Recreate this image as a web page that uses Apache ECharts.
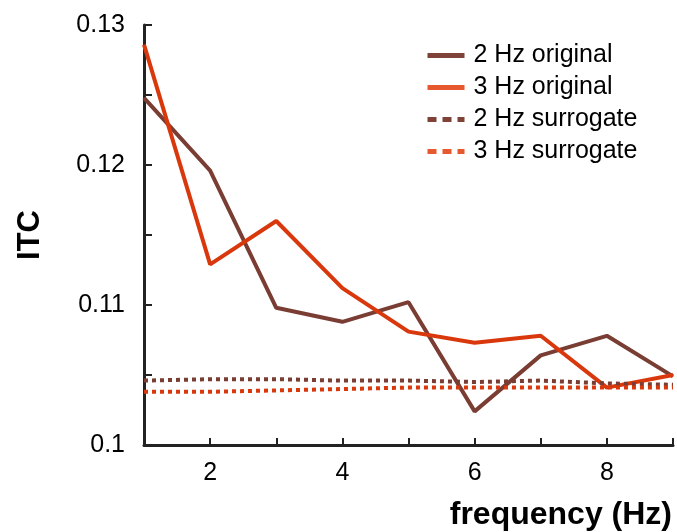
<!DOCTYPE html>
<html>
<head>
<meta charset="utf-8">
<script src="https://cdn.jsdelivr.net/npm/echarts@6/dist/echarts.min.js"></script>
<style>
html,body{margin:0;padding:0;background:#fff;}
#grafico{width:677px;height:532px;}
</style>
</head>
<body>
<div id="grafico"></div>
<script>
var frecuencias = [1, 2, 3, 4, 5, 6, 7, 8, 9];
var original2Hz = [0.1248, 0.1196, 0.1098, 0.1088, 0.1102, 0.1024, 0.1064, 0.1078, 0.1049];
var original3Hz = [0.1286, 0.1129, 0.1160, 0.1112, 0.1081, 0.1073, 0.1078, 0.1041, 0.1050];
var surrogate2Hz = [0.1046, 0.1047, 0.1047, 0.1046, 0.1046, 0.1045, 0.1046, 0.1044, 0.1043];
var surrogate3Hz = [0.1038, 0.1038, 0.1039, 0.1040, 0.1041, 0.1041, 0.1041, 0.1041, 0.1041];
var nombres = ['2 Hz original', '3 Hz original', '2 Hz surrogate', '3 Hz surrogate'];

var colorMarron = '#7a3d33';
var colorRojo = '#d9380d';
var colorMarronLeyenda = '#7f4238';
var colorRojoLeyenda = '#e8582e';

function pares(valores) {
	var arr = [];
	for (var i = 0; i < frecuencias.length; i++) {
		arr.push([frecuencias[i], valores[i]]);
	}
	return arr;
}

var dom = document.getElementById("grafico");
var myChart = echarts.init(dom);
var option = {
	animation: false,
	title: {
		text: 'frequency (Hz)',
		right: 0,
		bottom: -4,
		textStyle: { fontFamily: 'Liberation Sans', fontSize: 32, fontWeight: 'bold', color: '#000' }
	},
	legend: {
		left: 420,
		top: 38,
		orient: 'vertical',
		itemWidth: 37,
		itemHeight: 5,
		itemGap: 7,
		itemStyle: { opacity: 0 },
		data: [
			{ name: nombres[0], lineStyle: { color: colorMarronLeyenda, width: 5, type: 'solid' } },
			{ name: nombres[1], lineStyle: { color: colorRojoLeyenda, width: 5, type: 'solid' } },
			{ name: nombres[2], lineStyle: { color: colorMarronLeyenda, width: 5, type: [9, 6] } },
			{ name: nombres[3], lineStyle: { color: colorRojoLeyenda, width: 5, type: [9, 6] } }
		],
		textStyle: { fontFamily: 'Liberation Sans', fontSize: 25, color: '#000', padding: [0, 0, 0, 4] }
	},
	grid: { left: 144, right: 4, top: 25, bottom: 87 },
	xAxis: {
		type: 'value',
		min: 1,
		max: 9,
		interval: 1,
		splitLine: { show: false },
		axisLine: { lineStyle: { color: '#222', width: 3 } },
		axisTick: { inside: true, length: 7, lineStyle: { color: '#222', width: 2 } },
		axisLabel: {
			margin: 16,
			fontFamily: 'Liberation Sans', fontSize: 25, color: '#000',
			formatter: function (v) { return (v % 2 === 0) ? String(v) : ''; }
		}
	},
	yAxis: {
		type: 'value',
		min: 0.1,
		max: 0.13,
		interval: 0.005,
		name: 'ITC',
		nameLocation: 'middle',
		nameGap: 98,
		nameTextStyle: { fontFamily: 'Liberation Sans', fontSize: 31, fontWeight: 'bold', color: '#000' },
		splitLine: { show: false },
		axisLine: { show: true, lineStyle: { color: '#222', width: 3 } },
		axisTick: { show: true, inside: true, length: 8, lineStyle: { color: '#222', width: 2 } },
		axisLabel: {
			margin: 19,
			fontFamily: 'Liberation Sans', fontSize: 25, color: '#000',
			formatter: function (v) {
				var n = Math.round(v * 1000);
				if (n % 10 !== 0) return '';
				if (n === 100) return '0.1';
				return (n / 1000).toFixed(2);
			}
		}
	},
	series: [
		{
			name: nombres[0], type: 'line', symbol: 'none', data: pares(original2Hz),
			itemStyle: { color: colorMarron },
			lineStyle: { color: colorMarron, width: 4 }
		},
		{
			name: nombres[1], type: 'line', symbol: 'none', data: pares(original3Hz),
			itemStyle: { color: colorRojo },
			lineStyle: { color: colorRojo, width: 4 }
		},
		{
			name: nombres[2], type: 'line', symbol: 'none', data: pares(surrogate2Hz),
			itemStyle: { color: colorMarron },
			lineStyle: { color: colorMarron, width: 4, type: [4, 4] }
		},
		{
			name: nombres[3], type: 'line', symbol: 'none', data: pares(surrogate3Hz),
			itemStyle: { color: colorRojo },
			lineStyle: { color: colorRojo, width: 4, type: [4, 4] }
		}
	]
};
if (option && typeof option === "object") {
	myChart.setOption(option, true);
}
</script>
</body>
</html>
